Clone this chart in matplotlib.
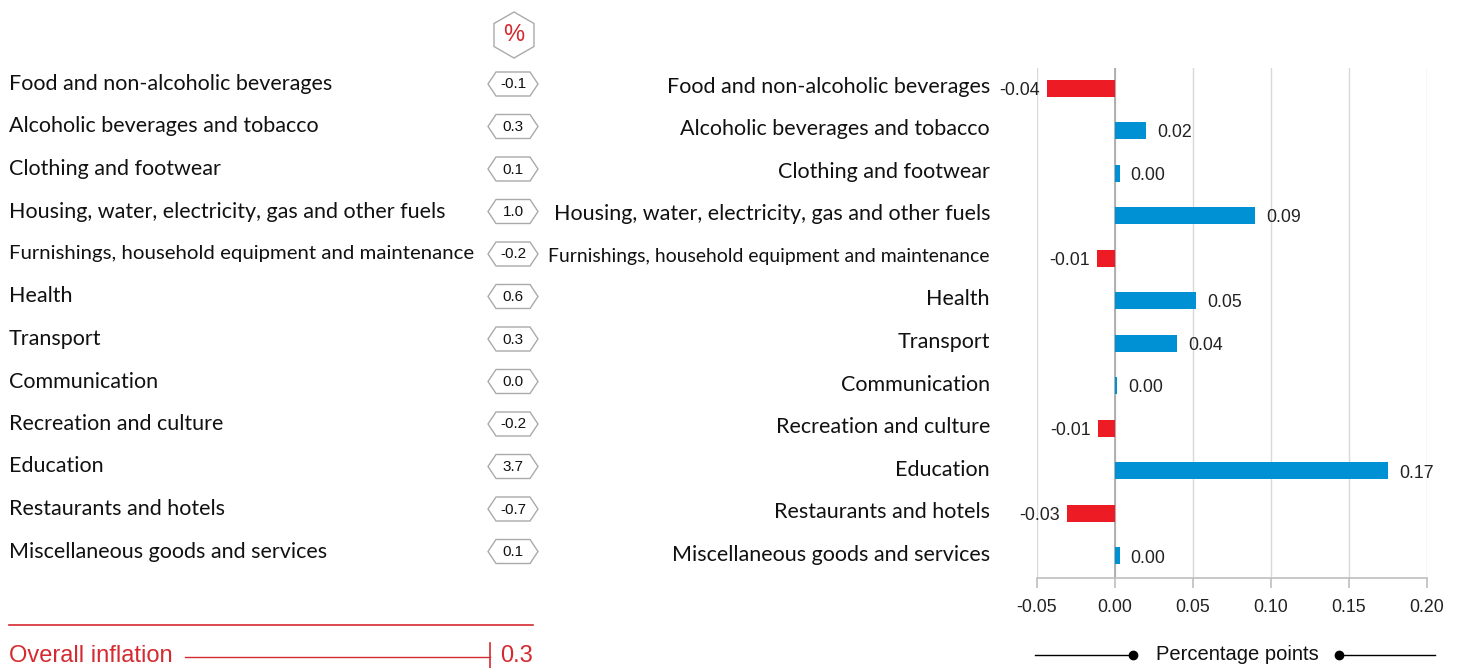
import matplotlib
matplotlib.use("Agg")
import matplotlib.pyplot as plt
import matplotlib.patches as patches

# 항목별 데이터
categories = [
    "Food and non-alcoholic beverages",
    "Alcoholic beverages and tobacco",
    "Clothing and footwear",
    "Housing, water, electricity, gas and other fuels",
    "Furnishings, household equipment and maintenance",
    "Health",
    "Transport",
    "Communication",
    "Recreation and culture",
    "Education",
    "Restaurants and hotels",
    "Miscellaneous goods and services",
]
pct_change = ["-0.1", "0.3", "0.1", "1.0", "-0.2", "0.6", "0.3", "0.0", "-0.2", "3.7", "-0.7", "0.1"]
contrib = [-0.0436, 0.0199, 0.003, 0.090, -0.0115, 0.052, 0.040, 0.0013, -0.011, 0.175, -0.031, 0.003]
contrib_labels = ["-0.04", "0.02", "0.00", "0.09", "-0.01", "0.05", "0.04", "0.00", "-0.01", "0.17", "-0.03", "0.00"]
xticks = [-0.05, 0.00, 0.05, 0.10, 0.15, 0.20]
overall_label = "Overall inflation"
overall_value = "0.3"

RED = "#ED1C24"
BLUE = "#0091D5"
DARKRED = "#D42A30"
LABEL_FONT = ["Lato", "DejaVu Sans"]
NUM_FONT = ["Liberation Sans", "DejaVu Sans"]
LABEL_FS = 15.5

W, H = 1460, 668
fig = plt.figure(figsize=(W / 100, H / 100), dpi=100)
renderer = fig.canvas.get_renderer()


def fit_width(txt, max_px):
    # 너무 긴 라벨은 글자 크기를 줄여서 맞춤
    w = txt.get_window_extent(renderer=renderer).width
    if w > max_px:
        txt.set_fontsize(txt.get_fontsize() * max_px / w)


# 막대 그래프 영역
ax_left, ax_right, ax_top, ax_bot = 1037, 1427, 68, 578
ax = fig.add_axes([ax_left / W, 1 - ax_bot / H, (ax_right - ax_left) / W, (ax_bot - ax_top) / H])
n = len(categories)
row_px = 42.5
ax.set_ylim(n - 1 + (ax_bot - 556) / row_px, -(88 - ax_top) / row_px)
ax.set_xlim(-0.05, 0.20)

colors = [RED if v < 0 else BLUE for v in contrib]
ax.barh(range(n), contrib, height=0.4, color=colors, zorder=3)

for x in xticks:
    ax.axvline(x, color="#d9d9d9", lw=1, zorder=1)
ax.axvline(0, color="#a6a6a6", lw=1.2, zorder=2)

for s in ["top", "right", "left"]:
    ax.spines[s].set_visible(False)
ax.spines["bottom"].set_color("#bfbfbf")
ax.spines["bottom"].set_linewidth(1.2)
ax.set_xticks(xticks)
ax.set_xticklabels([f"{x:.2f}" for x in xticks], family=NUM_FONT, fontsize=12.8, color="#222222")
ax.tick_params(axis="x", length=7, width=1.2, color="#bfbfbf", pad=8)
ax.set_yticks([])

px = 0.05 / 78.0  # 픽셀당 값
for i, (v, lab) in enumerate(zip(contrib, contrib_labels)):
    if v < 0:
        ax.text(v - 7 * px, i + 0.05, lab, ha="right", va="center", family=NUM_FONT,
                fontsize=12.8, color="#222222", zorder=4)
    else:
        ax.text(v + 11 * px, i + 0.05, lab, ha="left", va="center", family=NUM_FONT,
                fontsize=12.8, color="#222222", zorder=4)

# 오른쪽 항목 이름
for i, c in enumerate(categories):
    t = ax.text(-125 * px, i - 0.03, c, ha="right", va="center", family=LABEL_FONT,
                fontsize=LABEL_FS, color="#111111", clip_on=False)
    fit_width(t, 443)

# 전체 그림 위 오버레이 (픽셀 좌표)
ov = fig.add_axes([0, 0, 1, 1], zorder=-1)
ov.set_xlim(0, W)
ov.set_ylim(H, 0)
ov.axis("off")

y0 = 84
for i, (c, p) in enumerate(zip(categories, pct_change)):
    y = y0 + i * row_px
    t = ov.text(9, y, c, ha="left", va="center", family=LABEL_FONT, fontsize=LABEL_FS, color="#111111")
    fit_width(t, 466)
    cx = 513
    hexa = patches.Polygon(
        [(cx - 25, y), (cx - 17, y - 12), (cx + 17, y - 12), (cx + 25, y),
         (cx + 17, y + 12), (cx - 17, y + 12)],
        closed=True, facecolor="white", edgecolor="#aaaaaa", lw=1.0)
    ov.add_patch(hexa)
    ov.text(cx, y + 0.5, p, ha="center", va="center", family=NUM_FONT, fontsize=11, color="#111111")

# 퍼센트 배지
cx, cy = 514, 35
pct_hex = patches.Polygon(
    [(cx, cy - 23), (cx + 20, cy - 11.5), (cx + 20, cy + 11.5), (cx, cy + 23),
     (cx - 20, cy + 11.5), (cx - 20, cy - 11.5)],
    closed=True, facecolor="white", edgecolor="#aaaaaa", lw=1.0)
ov.add_patch(pct_hex)
ov.text(cx, cy, "%", ha="center", va="center", family=NUM_FONT, fontsize=17, color=DARKRED)

# 전체 인플레이션
ov.plot([9, 533], [625, 625], color=DARKRED, lw=1.2)
ov.text(9, 656, overall_label, ha="left", va="center", family=NUM_FONT, fontsize=17, color=DARKRED)
ov.plot([185, 490], [657, 657], color=DARKRED, lw=1.0)
ov.plot([490, 490], [643, 668], color=DARKRED, lw=1.2)
ov.text(500, 656, overall_value, ha="left", va="center", family=NUM_FONT, fontsize=17, color=DARKRED)

# 축 설명
ov.text(1237, 654, "Percentage points", ha="center", va="center", family=NUM_FONT,
        fontsize=14.5, color="#111111")
ov.plot([1035, 1133], [655, 655], color="black", lw=1.0)
ov.plot([1339, 1435], [655, 655], color="black", lw=1.0)
ov.plot([1133, 1339], [655, 655], "o", color="black", ms=6, linestyle="none")

fig.savefig("out.png", dpi=100)
plt.close(fig)
